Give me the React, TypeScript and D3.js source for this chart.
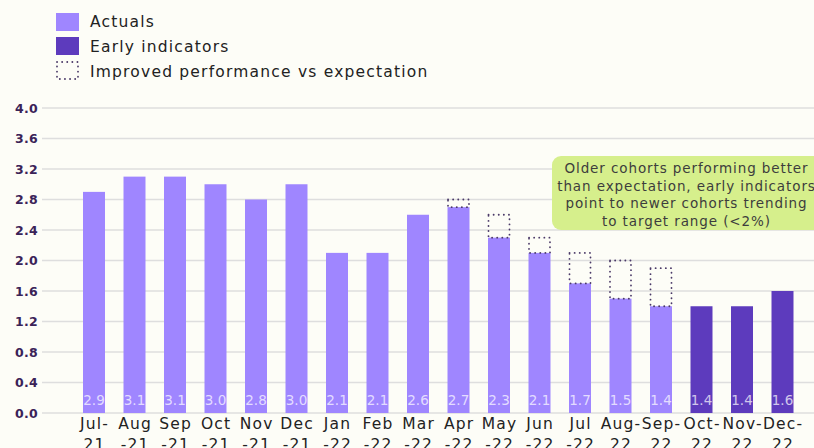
import React from "react";
import * as d3 from "d3";

const months = [
  "Jul-21", "Aug-21", "Sep-21", "Oct-21", "Nov-21", "Dec-21",
  "Jan-22", "Feb-22", "Mar-22", "Apr-22", "May-22", "Jun-22",
  "Jul-22", "Aug-22", "Sep-22", "Oct-22", "Nov-22", "Dec-22",
];
// how the month labels wrap onto two lines
const labelTop = [
  "Jul-", "Aug", "Sep", "Oct", "Nov", "Dec", "Jan", "Feb", "Mar",
  "Apr", "May", "Jun", "Jul", "Aug-", "Sep-", "Oct-", "Nov-", "Dec-",
];
const labelBottom = [
  "21", "-21", "-21", "-21", "-21", "-21", "-22", "-22", "-22",
  "-22", "-22", "-22", "-22", "22", "22", "22", "22", "22",
];
const values = [2.9, 3.1, 3.1, 3.0, 2.8, 3.0, 2.1, 2.1, 2.6, 2.7, 2.3, 2.1, 1.7, 1.5, 1.4, 1.4, 1.4, 1.6];
const kind = ["a", "a", "a", "a", "a", "a", "a", "a", "a", "a", "a", "a", "a", "a", "a", "e", "e", "e"];
// expectation for months that beat it
const expected = [null, null, null, null, null, null, null, null, null, 2.8, 2.6, 2.3, 2.1, 2.0, 1.9, null, null, null];
const yTicks = [0, 0.4, 0.8, 1.2, 1.6, 2.0, 2.4, 2.8, 3.2, 3.6, 4.0];
const legendItems = ["Actuals", "Early indicators", "Improved performance vs expectation"];
const noteLines = [
  "Older cohorts performing better",
  "than expectation, early indicators",
  "point to newer cohorts trending",
  "to target range (<2%)",
];

const W = 814;
const H = 448;
const actualColor = "#9f86ff";
const earlyColor = "#5d3bbd";
const dotColor = "#4b3a68";
const font = "'DejaVu Sans', sans-serif";

export default function App() {
  const x = d3
    .scaleBand<string>()
    .domain(months)
    .range([73.75, 802.75])
    .paddingInner(0.457)
    .paddingOuter(0.2285);
  const y = d3.scaleLinear().domain([0, 4]).range([413, 108]);
  const bw = x.bandwidth();
  const cx = (m: string) => x(m)! + bw / 2;

  return (
    <div style={{ position: "fixed", left: 0, top: 0 }}>
      <svg width={W} height={H} style={{ display: "block", background: "#fdfdf7" }}>
        {/* legend */}
        <g fontFamily={font} fontSize={15.5} fill="#222">
          <rect x={56} y={13} width={23} height={18} fill={actualColor} />
          <rect x={56} y={37} width={23} height={18} fill={earlyColor} />
          <rect
            x={57}
            y={62}
            width={21}
            height={17}
            fill="none"
            stroke={dotColor}
            strokeWidth={1.8}
            strokeDasharray="0.1 5"
            strokeLinecap="round"
          />
          {legendItems.map((t, i) => (
            <text key={t} x={90} y={27 + i * 25} letterSpacing={1.2}>
              {t}
            </text>
          ))}
        </g>

        {/* grid + y axis */}
        <g>
          {yTicks.map((t) => (
            <g key={t}>
              <line x1={42} x2={W} y1={y(t)} y2={y(t)} stroke="#dedede" strokeWidth={1.5} />
              <text
                x={38}
                y={y(t) + 4.5}
                textAnchor="end"
                fontFamily={font}
                fontWeight="bold"
                fontSize={12.5}
                letterSpacing={0.3}
                fill="#3a2358"
              >
                {t.toFixed(1)}
              </text>
            </g>
          ))}
        </g>

        {/* bars */}
        <g>
          {months.map((m, i) => (
            <rect
              key={m}
              x={x(m)}
              y={y(values[i])}
              width={bw}
              height={y(0) - y(values[i])}
              fill={kind[i] === "e" ? earlyColor : actualColor}
            />
          ))}
        </g>

        {/* expectation boxes */}
        <g>
          {months.map((m, i) =>
            expected[i] == null ? null : (
              <rect
                key={m}
                x={x(m)! + 0.5}
                y={y(expected[i] as number)}
                width={bw - 1}
                height={y(values[i]) - y(expected[i] as number)}
                fill="none"
                stroke={dotColor}
                strokeWidth={1.8}
                strokeDasharray="0.1 5"
                strokeLinecap="round"
              />
            )
          )}
        </g>

        {/* value labels */}
        <g fontFamily={font} fontSize={13.5} textAnchor="middle" fill="#ffffff" fillOpacity={0.72}>
          {months.map((m, i) => (
            <text key={m} x={cx(m)} y={405}>
              {values[i].toFixed(1)}
            </text>
          ))}
        </g>

        {/* x labels */}
        <g fontFamily={font} fontSize={15.5} textAnchor="middle" fill="#222" letterSpacing={1.2}>
          {months.map((m, i) => (
            <g key={m}>
              <text x={cx(m) + 0.6} y={429}>
                {labelTop[i]}
              </text>
              <text x={cx(m) + 0.6} y={450}>
                {labelBottom[i]}
              </text>
            </g>
          ))}
        </g>

        {/* annotation */}
        <g>
          <rect x={552} y={156} width={280} height={74} rx={9} fill="#d6ef8c" />
          {noteLines.map((t, i) => (
            <text
              key={t}
              x={686.5}
              y={173 + i * 17.7}
              textAnchor="middle"
              fontFamily={font}
              fontSize={13.5}
              letterSpacing={0.9}
              fill="#3d3d3d"
            >
              {t}
            </text>
          ))}
        </g>
      </svg>
    </div>
  );
}
